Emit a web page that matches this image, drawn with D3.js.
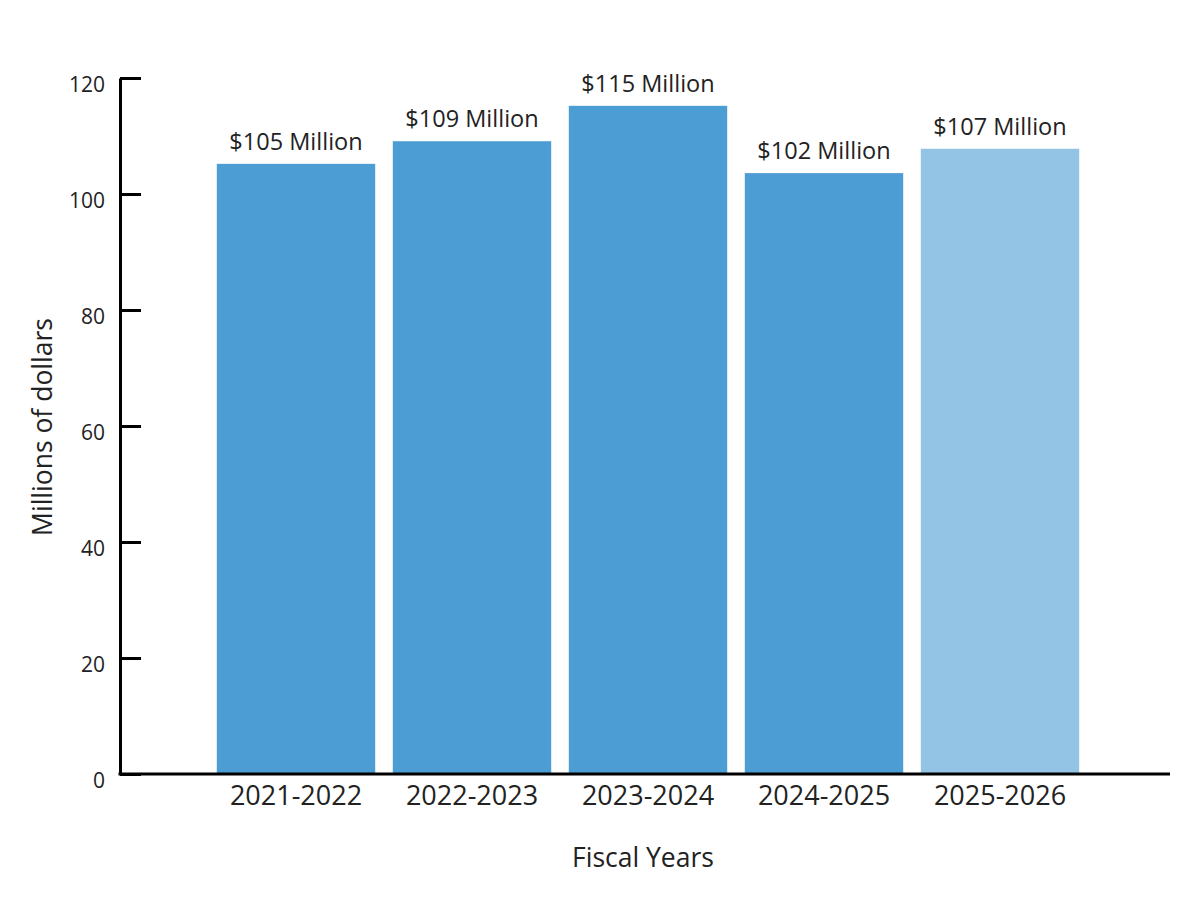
<!DOCTYPE html>
<html lang="en">
<head>
  <meta charset="UTF-8">
  <title>Fiscal Years Funding</title>
  <script src="https://d3js.org/d3.v7.min.js"></script>
  <style>
    body { margin: 0; background: #fff; font-family: "Open Sans", sans-serif; }
    svg { display: block; }
    .tick text { fill: #222; }
  </style>
</head>
<body>
  <svg id="chart" width="1200" height="917"></svg>
  <script>
    const years = ["2021-2022", "2022-2023", "2023-2024", "2024-2025", "2025-2026"];
    const amounts = [105.2, 109.1, 115.2, 103.6, 107.8];
    const amountLabels = ["$105 Million", "$109 Million", "$115 Million", "$102 Million", "$107 Million"];
    const yTicks = [0, 20, 40, 60, 80, 100, 120];

    const data = years.map((y, i) => ({ year: y, value: amounts[i], label: amountLabels[i] }));

    const svg = d3.select("#chart");

    const x = d3.scaleBand()
      .domain(years)
      .range([208, 1088])
      .paddingInner(0.1)
      .paddingOuter(0.05);

    const y = d3.scaleLinear()
      .domain([0, 120])
      .range([774, 78]);

    // bars
    svg.selectAll(".bar")
      .data(data)
      .enter()
      .append("rect")
      .attr("class", "bar")
      .attr("x", d => x(d.year))
      .attr("y", d => y(d.value))
      .attr("width", x.bandwidth())
      .attr("height", d => y(0) - y(d.value))
      .attr("fill", (d, i) => i === data.length - 1 ? "#94c4e5" : "#4b9dd3");

    // value labels
    svg.selectAll(".label")
      .data(data)
      .enter()
      .append("text")
      .attr("class", "label")
      .attr("x", d => x(d.year) + x.bandwidth() / 2)
      .attr("y", d => y(d.value) - 14)
      .attr("text-anchor", "middle")
      .style("font-size", "23.5px")
      .style("fill", "#222")
      .text(d => d.label);

    // y axis: ticks point right, labels on the left
    const yAxis = svg.append("g")
      .attr("transform", "translate(120,0)")
      .call(d3.axisRight(y).tickValues(yTicks).tickSize(21).tickSizeOuter(0));
    yAxis.select(".domain").attr("stroke", "#000").attr("stroke-width", 3);
    yAxis.selectAll(".tick line").attr("stroke", "#000").attr("stroke-width", 3);
    yAxis.selectAll(".tick text")
      .attr("x", -15)
      .attr("dy", "0.65em")
      .attr("text-anchor", "end")
      .style("font-size", "21px")
      .attr("font-family", "Open Sans");

    // x axis
    const xAxis = svg.append("g")
      .attr("transform", "translate(0,774)")
      .call(d3.axisBottom(x).tickSize(0).tickPadding(12));
    xAxis.select(".domain").remove();
    xAxis.append("line")
      .attr("x1", 118.5).attr("x2", 1170)
      .attr("y1", 0).attr("y2", 0)
      .attr("stroke", "#000").attr("stroke-width", 3);
    xAxis.selectAll(".tick text")
      .style("font-size", "27px")
      .attr("font-family", "Open Sans");

    // axis titles
    svg.append("text")
      .attr("x", 643)
      .attr("y", 867)
      .attr("text-anchor", "middle")
      .style("font-size", "26.5px")
      .style("fill", "#222")
      .text("Fiscal Years");

    svg.append("text")
      .attr("transform", "translate(52,427) rotate(-90)")
      .attr("text-anchor", "middle")
      .style("font-size", "26.5px")
      .style("fill", "#222")
      .text("Millions of dollars");
  </script>
</body>
</html>
